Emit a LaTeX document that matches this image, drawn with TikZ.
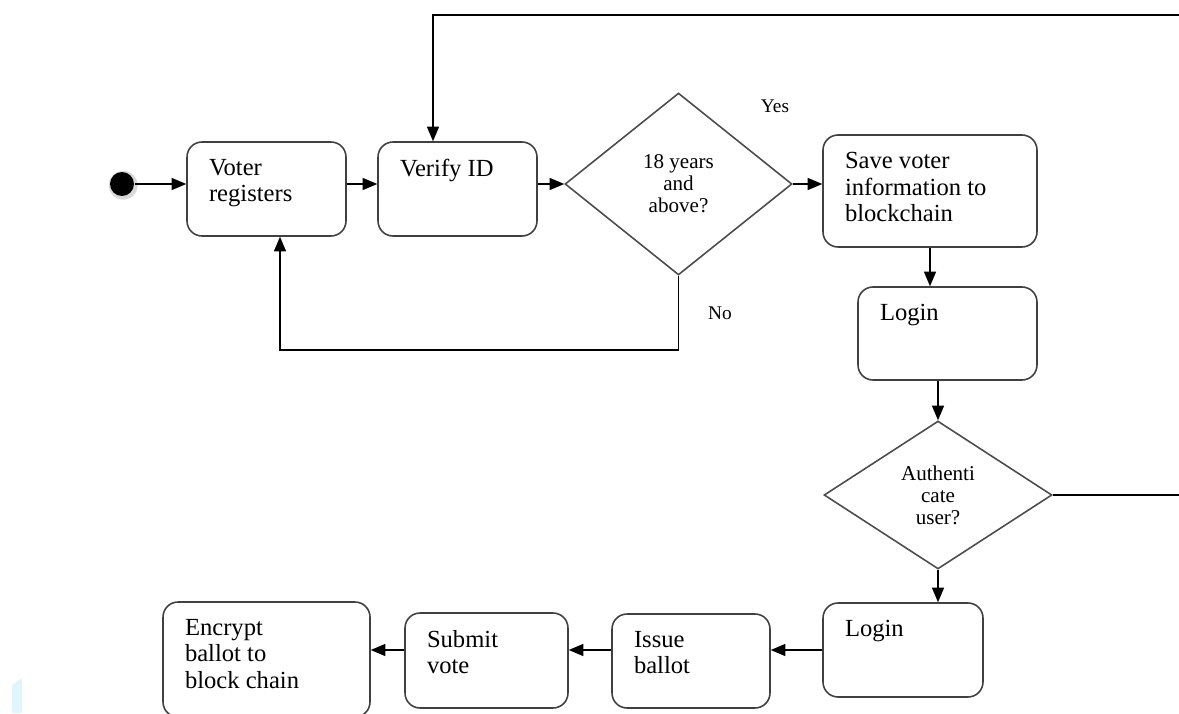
\documentclass[tikz,border=0pt]{standalone}
\usepackage{fontspec}
\setmainfont{Liberation Serif}
\usetikzlibrary{arrows,shapes.geometric,shadows}

\begin{document}
\begin{tikzpicture}[x=0.02cm,y=-0.02cm,>=triangle 45,line width=0.9pt,
    act/.style={draw=black!75,rounded corners=0.3cm,inner sep=0pt},
    txt/.style={anchor=north west,align=left,inner sep=0pt,xshift=0.44cm,yshift=-0.35cm,
        font=\fontsize{14}{15}\selectfont},
    dec/.style={draw=black!70,shape=diamond,inner sep=0pt,align=center,
        font=\fontsize{12}{12.5}\selectfont},
    lbl/.style={font=\fontsize{11}{13}\selectfont}]
    \useasboundingbox (0,0) rectangle (1179,713);
    \fill[cyan!12] (12,713) -- (12,685) -- (22,678) -- (22,713) -- cycle;
    % top row
    \node[shape=circle,fill=black,minimum size=0.48cm,inner sep=0pt,
        drop shadow={shadow xshift=0.6pt,shadow yshift=-0.6pt,opacity=0.3,shadow scale=1.2}] (start) at (122,184) {};
    \node[act,minimum width=3.18cm,minimum height=1.88cm,label={[txt]north west:Voter\\registers}] (voter) at (266.5,189) {};
    \node[act,minimum width=3.18cm,minimum height=1.88cm,label={[txt]north west:Verify ID}] (verify) at (457.5,189) {};
    \node[dec,minimum width=4.54cm,minimum height=3.64cm] (age) at (678.5,184) {18 years\\and\\above?};
    \node[act,minimum width=4.28cm,minimum height=2.24cm,label={[txt]north west:Save voter\\information to\\blockchain}] (save) at (930,191) {};
    \node[lbl] (yes) at (775,106) {Yes};
    \node[lbl] (no) at (720,313) {No};
    % right column
    \node[act,minimum width=3.58cm,minimum height=1.86cm,label={[txt]north west:Login}] (login1) at (947.5,333.5) {};
    \node[dec,minimum width=4.56cm,minimum height=2.96cm] (auth) at (938,495) {Authenti\\cate\\user?};
    \node[act,minimum width=3.2cm,minimum height=1.88cm,label={[txt]north west:Login}] (login2) at (903,650) {};
    % bottom row
    \node[act,minimum width=3.16cm,minimum height=1.88cm,label={[txt]north west:Issue\\ballot}] (issue) at (691,661) {};
    \node[act,minimum width=3.26cm,minimum height=1.9cm,label={[txt]north west:Submit\\vote}] (submit) at (486.5,660.5) {};
    \node[act,minimum width=4.14cm,minimum height=2.3cm,label={[txt]north west:Encrypt\\ballot to\\block chain}] (encrypt) at (266.5,659.5) {};
    \coordinate (back) at (1179,15);
    \coordinate (out) at (1179,495);

    \path[->] (start) edge (voter.west |- start);
    \path[->] (voter.east |- start) edge (verify.west |- start);
    \path[->] (verify.east |- start) edge (age.west);
    \path[->] (age.east) edge (save.west |- age.east);
    \path[->] (save.south) edge (save.south |- login1.north);
    \path[->] (auth.north |- login1.south) edge (auth.north);
    \path[->] (auth.south) edge (auth.south |- login2.north);
    \path[->] (login2.west) edge (login2.west -| issue.east);
    \path[->] (issue.west |- login2.west) edge (submit.east |- login2.west);
    \path[->] (submit.west |- login2.west) edge (encrypt.east |- login2.west);
    \draw[->] (age.south) -- ++(0,74) -| ([xshift=0.27cm]voter.south);
    \draw[->] (back) -| ([xshift=-0.49cm]verify.north);
    \draw (auth.east) -- (out);
\end{tikzpicture}
\end{document}
